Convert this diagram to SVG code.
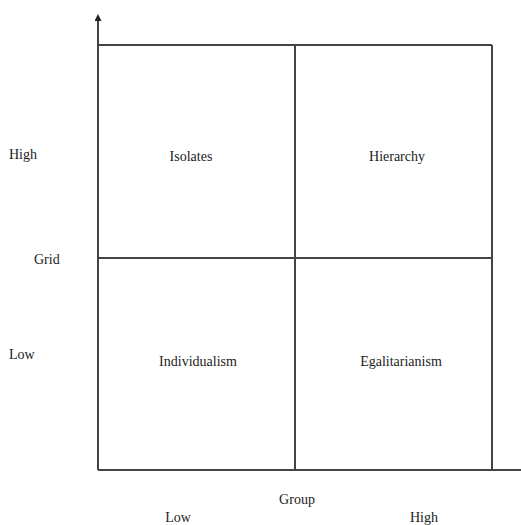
<svg xmlns="http://www.w3.org/2000/svg" width="521" height="525" viewBox="0 0 521 525">
<style>
.ln{stroke:#444;stroke-width:2;fill:none}
text{font-family:"Liberation Serif","Times New Roman",serif;font-size:14px;fill:#222}
.c{text-anchor:middle}
</style>
<defs>
<marker id="ah" markerWidth="7" markerHeight="7" refX="5" refY="3.5" orient="auto" markerUnits="userSpaceOnUse">
<path d="M0,0 L7,3.5 L0,7 Z" fill="#222"/>
</marker>
</defs>
<rect width="521" height="525" fill="#fff"/>
<g id="connectors">
<line class="ln" x1="98" y1="470" x2="98" y2="16" marker-end="url(#ah)"/>
<line class="ln" x1="98" y1="470" x2="521" y2="470"/>
<line class="ln" x1="98" y1="45" x2="492" y2="45"/>
<line class="ln" x1="492" y1="45" x2="492" y2="470"/>
<line class="ln" x1="295" y1="45" x2="295" y2="470"/>
<line class="ln" x1="98" y1="258" x2="492" y2="258"/>
</g>
<g id="isolates"><text class="c" x="191" y="161">Isolates</text></g>
<g id="hierarchy"><text class="c" x="397" y="161">Hierarchy</text></g>
<g id="individualism"><text class="c" x="198" y="366">Individualism</text></g>
<g id="egalitarianism"><text class="c" x="401" y="366">Egalitarianism</text></g>
<g id="labels">
<text x="9" y="159">High</text>
<text x="34" y="264">Grid</text>
<text x="9" y="359">Low</text>
<text class="c" x="297" y="504">Group</text>
<text class="c" x="178" y="522">Low</text>
<text class="c" x="424" y="522">High</text>
</g>
</svg>
